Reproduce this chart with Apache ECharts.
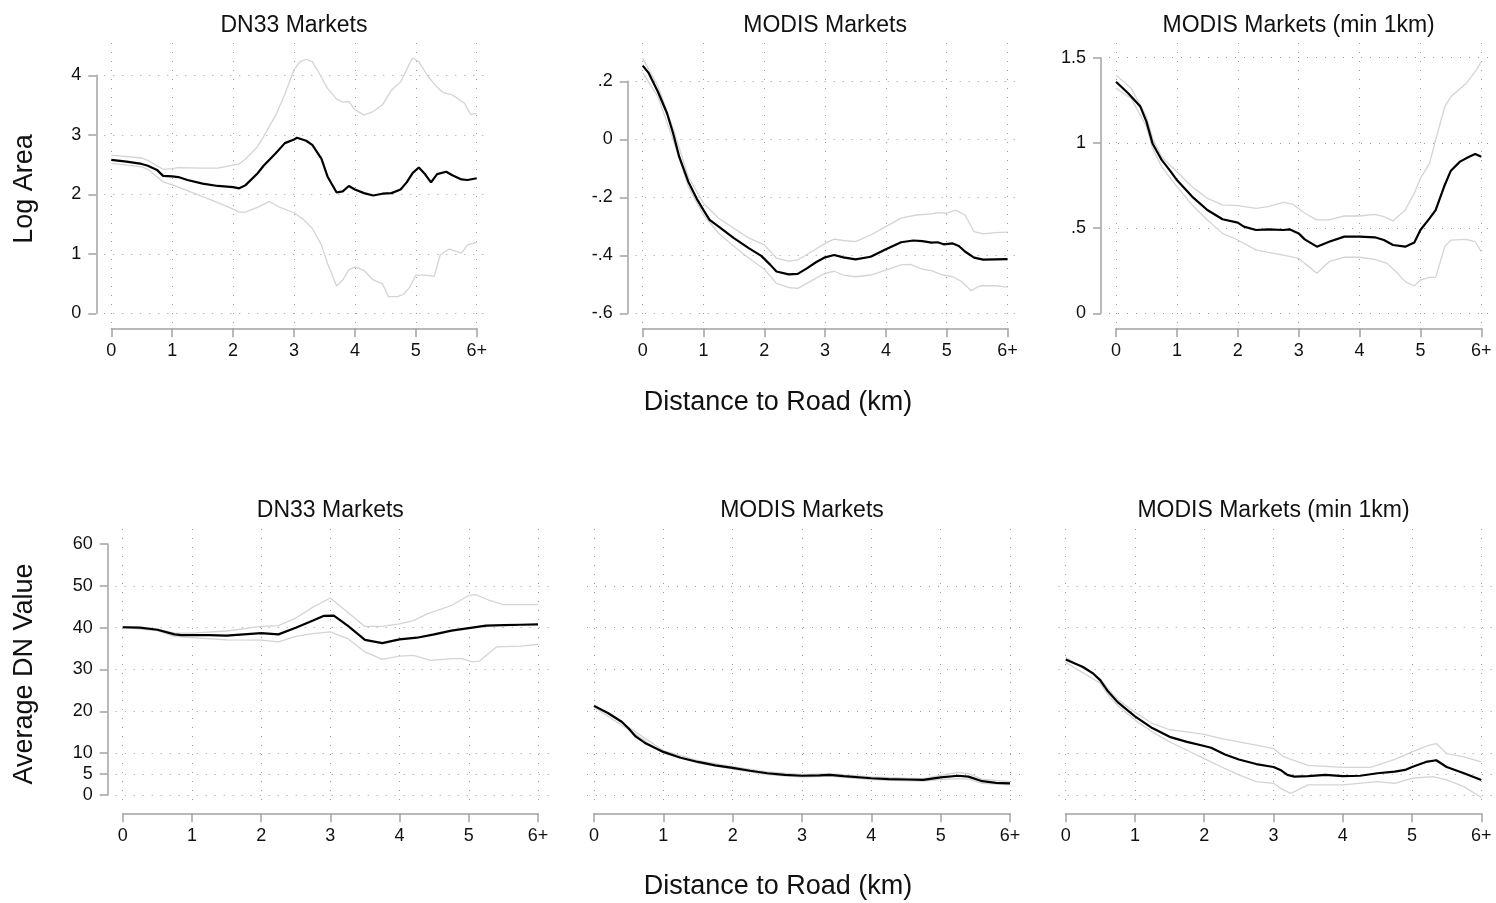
<!DOCTYPE html>
<html>
<head>
<meta charset="utf-8">
<title>Log Area and Average DN Value by Distance to Road</title>
<script src="https://cdn.jsdelivr.net/npm/echarts@6/dist/echarts.min.js"></script>
<style>
  html, body { margin: 0; padding: 0; background: #ffffff; }
  #chart { width: 1496px; height: 903px; }
</style>
</head>
<body>
<div id="chart"></div>
<script>
// ---- data: [distance km, value] ----
const xTicks = [0, 1, 2, 3, 4, 5, 6]

// Log Area, DN33 markets
const areaDn33Est = [[0,2.58],[0.25,2.55],[0.5,2.51],[0.6,2.48],[0.75,2.41],[0.85,2.31],[1,2.30],[1.1,2.29],[1.25,2.24],[1.5,2.18],[1.75,2.14],[2,2.12],[2.1,2.10],[2.2,2.15],[2.4,2.35],[2.5,2.48],[2.7,2.69],[2.85,2.86],[3,2.92],[3.05,2.95],[3.2,2.90],[3.3,2.83],[3.45,2.60],[3.55,2.30],[3.7,2.03],[3.8,2.05],[3.9,2.14],[4,2.08],[4.15,2.02],[4.3,1.98],[4.45,2.01],[4.6,2.02],[4.75,2.08],[4.85,2.20],[4.95,2.36],[5.05,2.45],[5.15,2.34],[5.25,2.20],[5.35,2.34],[5.5,2.38],[5.6,2.32],[5.75,2.25],[5.85,2.24],[6,2.27]]
const areaDn33Hi = [[0,2.66],[0.5,2.61],[0.6,2.57],[0.85,2.42],[1,2.43],[1.1,2.45],[1.5,2.44],[1.75,2.44],[2,2.49],[2.1,2.51],[2.2,2.59],[2.4,2.80],[2.5,2.97],[2.7,3.33],[2.85,3.68],[3,4.09],[3.1,4.23],[3.2,4.27],[3.3,4.23],[3.4,4.06],[3.55,3.78],[3.7,3.60],[3.8,3.55],[3.9,3.56],[4,3.42],[4.15,3.33],[4.3,3.39],[4.45,3.50],[4.6,3.75],[4.75,3.89],[4.9,4.20],[4.95,4.29],[5.05,4.23],[5.2,3.98],[5.35,3.80],[5.45,3.71],[5.6,3.67],[5.8,3.53],[5.9,3.34],[6,3.36]]
const areaDn33Lo = [[0,2.52],[0.5,2.46],[0.6,2.42],[0.85,2.21],[1,2.16],[1.1,2.12],[1.5,1.96],[1.75,1.86],[2,1.75],[2.1,1.70],[2.2,1.70],[2.4,1.78],[2.6,1.88],[2.75,1.79],[3,1.69],[3.15,1.58],[3.3,1.43],[3.45,1.15],[3.55,0.84],[3.7,0.46],[3.8,0.56],[3.9,0.73],[4,0.78],[4.15,0.72],[4.3,0.56],[4.45,0.50],[4.55,0.28],[4.7,0.28],[4.8,0.32],[4.9,0.44],[5,0.64],[5.15,0.64],[5.3,0.62],[5.4,0.98],[5.55,1.08],[5.75,1.01],[5.85,1.15],[6,1.19]]

// Log Area, MODIS markets
const areaModisEst = [[0,0.254],[0.1,0.228],[0.25,0.164],[0.4,0.090],[0.5,0.021],[0.6,-0.060],[0.75,-0.146],[0.9,-0.209],[1,-0.244],[1.1,-0.278],[1.25,-0.301],[1.5,-0.341],[1.75,-0.376],[1.95,-0.402],[2.1,-0.433],[2.2,-0.456],[2.4,-0.466],[2.55,-0.464],[2.7,-0.445],[2.85,-0.424],[3,-0.407],[3.15,-0.399],[3.3,-0.407],[3.5,-0.414],[3.75,-0.405],[4,-0.379],[4.25,-0.355],[4.45,-0.349],[4.6,-0.351],[4.75,-0.356],[4.85,-0.355],[4.95,-0.362],[5.1,-0.359],[5.2,-0.368],[5.3,-0.387],[5.45,-0.408],[5.6,-0.415],[5.8,-0.414],[6,-0.413]]
const areaModisHi = [[0,0.279],[0.25,0.184],[0.5,0.038],[0.75,-0.129],[1,-0.221],[1.25,-0.272],[1.5,-0.307],[1.75,-0.341],[2,-0.364],[2.2,-0.410],[2.4,-0.420],[2.55,-0.416],[2.75,-0.391],[3,-0.359],[3.15,-0.344],[3.3,-0.349],[3.5,-0.353],[3.75,-0.330],[4,-0.301],[4.25,-0.272],[4.5,-0.261],[4.75,-0.257],[4.85,-0.253],[5,-0.255],[5.15,-0.244],[5.3,-0.261],[5.45,-0.318],[5.6,-0.326],[5.8,-0.322],[6,-0.320]]
const areaModisLo = [[0,0.230],[0.25,0.147],[0.5,-0.002],[0.75,-0.163],[1,-0.261],[1.25,-0.324],[1.5,-0.370],[1.75,-0.410],[2,-0.448],[2.2,-0.497],[2.4,-0.511],[2.55,-0.514],[2.75,-0.491],[3,-0.462],[3.15,-0.455],[3.3,-0.468],[3.5,-0.474],[3.75,-0.468],[4,-0.451],[4.25,-0.433],[4.4,-0.431],[4.6,-0.448],[4.75,-0.453],[4.9,-0.466],[5.1,-0.474],[5.25,-0.491],[5.4,-0.522],[5.55,-0.505],[5.8,-0.505],[6,-0.510]]

// Log Area, MODIS markets (min 1km)
const areaModis1Est = [[0,1.359],[0.2,1.291],[0.4,1.213],[0.5,1.125],[0.6,0.997],[0.75,0.900],[0.9,0.831],[1,0.782],[1.25,0.685],[1.5,0.606],[1.75,0.552],[2,0.532],[2.1,0.509],[2.3,0.489],[2.5,0.493],[2.75,0.489],[2.85,0.493],[3,0.469],[3.1,0.434],[3.3,0.391],[3.5,0.420],[3.75,0.450],[4,0.450],[4.25,0.446],[4.4,0.430],[4.55,0.401],[4.75,0.391],[4.9,0.415],[5,0.489],[5.15,0.557],[5.25,0.606],[5.4,0.753],[5.5,0.837],[5.65,0.890],[5.8,0.919],[5.9,0.935],[6,0.919]]
const areaModis1Hi = [[0,1.398],[0.25,1.320],[0.5,1.154],[0.6,1.027],[0.75,0.919],[1,0.831],[1.25,0.743],[1.5,0.675],[1.75,0.636],[2,0.632],[2.3,0.616],[2.5,0.626],[2.75,0.651],[2.9,0.641],[3.1,0.587],[3.3,0.548],[3.5,0.548],[3.75,0.571],[4,0.571],[4.25,0.581],[4.4,0.567],[4.55,0.542],[4.75,0.606],[4.9,0.704],[5,0.792],[5.15,0.880],[5.25,1.017],[5.4,1.213],[5.5,1.271],[5.75,1.349],[5.9,1.418],[6,1.477]]
const areaModis1Lo = [[0,1.320],[0.25,1.261],[0.5,1.095],[0.6,0.968],[0.75,0.861],[1,0.743],[1.25,0.636],[1.5,0.548],[1.75,0.469],[2,0.430],[2.3,0.372],[2.5,0.358],[2.75,0.342],[3,0.323],[3.1,0.293],[3.3,0.235],[3.5,0.303],[3.75,0.329],[4,0.329],[4.25,0.317],[4.45,0.293],[4.6,0.244],[4.75,0.186],[4.9,0.160],[5,0.196],[5.15,0.211],[5.25,0.211],[5.4,0.391],[5.5,0.430],[5.75,0.434],[5.9,0.420],[6,0.362]]

// Average DN value, DN33 markets
const dnDn33Est = [[0,40.1],[0.25,40.0],[0.5,39.5],[0.75,38.4],[0.85,38.2],[1,38.2],[1.25,38.2],[1.5,38.1],[1.75,38.4],[2,38.7],[2.25,38.4],[2.5,40.0],[2.75,41.7],[2.9,42.8],[3.05,42.9],[3.25,40.5],[3.5,37.1],[3.75,36.3],[4,37.2],[4.25,37.6],[4.5,38.4],[4.75,39.3],[5,39.9],[5.25,40.5],[5.5,40.6],[5.75,40.7],[6,40.8]]
const dnDn33Hi = [[0,40.3],[0.5,39.7],[0.75,38.7],[1,38.7],[1.5,39.2],[2,40.3],[2.25,40.5],[2.5,42.3],[2.75,44.9],[3,47.1],[3.25,43.7],[3.5,40.3],[3.75,40.3],[4,40.9],[4.2,41.7],[4.4,43.3],[4.75,45.3],[5,47.7],[5.1,47.9],[5.3,46.5],[5.5,45.5],[6,45.5]]
const dnDn33Lo = [[0,40.0],[0.5,39.3],[0.75,37.9],[1,37.6],[1.5,37.1],[2,37.0],[2.25,36.6],[2.5,37.9],[2.75,38.6],[3,39.0],[3.25,37.4],[3.5,34.2],[3.75,32.4],[4,33.2],[4.2,33.4],[4.45,32.2],[4.75,32.6],[4.9,32.6],[5.05,31.8],[5.15,32.0],[5.4,35.4],[5.75,35.6],[6,36.0]]

// Average DN value, MODIS markets
const dnModisEst = [[0,21.3],[0.2,19.6],[0.4,17.5],[0.5,15.9],[0.6,14.0],[0.75,12.3],[1,10.3],[1.25,8.9],[1.5,7.9],[1.75,7.1],[2,6.5],[2.25,5.8],[2.5,5.2],[2.75,4.8],[3,4.6],[3.25,4.7],[3.4,4.8],[3.6,4.5],[4,4.0],[4.25,3.8],[4.5,3.7],[4.75,3.6],[5,4.2],[5.25,4.6],[5.4,4.4],[5.6,3.3],[5.8,2.9],[6,2.8]]
const dnModisHi = [[0,21.6],[0.5,16.2],[1,10.6],[1.5,8.2],[2,6.8],[2.5,5.5],[3,4.9],[3.4,5.1],[4,4.3],[4.5,4.0],[4.75,3.9],[5,4.7],[5.25,5.4],[5.4,5.1],[5.6,3.8],[6,3.2]]
const dnModisLo = [[0,21.0],[0.5,15.6],[1,10.0],[1.5,7.6],[2,6.2],[2.5,4.9],[3,4.3],[3.4,4.5],[4,3.7],[4.5,3.4],[4.75,3.3],[5,3.7],[5.25,3.9],[5.4,3.8],[5.6,2.8],[6,2.4]]

// Average DN value, MODIS markets (min 1km)
const dnModis1Est = [[0,32.4],[0.25,30.6],[0.4,29.0],[0.5,27.4],[0.6,25.0],[0.75,22.2],[1,18.8],[1.25,16.0],[1.5,13.9],[1.75,12.7],[2,11.7],[2.1,11.3],[2.3,9.7],[2.5,8.5],[2.75,7.4],[3,6.7],[3.1,6.0],[3.2,4.8],[3.3,4.4],[3.5,4.5],[3.75,4.8],[4,4.5],[4.25,4.6],[4.5,5.2],[4.75,5.6],[4.9,6.0],[5,6.7],[5.2,7.9],[5.35,8.3],[5.5,6.7],[5.75,5.2],[6,3.6]]
const dnModis1Hi = [[0,32.9],[0.5,27.8],[0.6,25.6],[0.75,22.8],[1,19.8],[1.25,17.1],[1.5,15.6],[1.75,15.1],[2,14.5],[2.25,13.5],[2.5,12.7],[2.75,11.9],[3,11.1],[3.15,9.1],[3.5,7.1],[4,6.6],[4.4,6.6],[4.75,8.5],[5,10.3],[5.25,11.9],[5.35,12.3],[5.5,9.9],[5.75,9.1],[6,7.9]]
const dnModis1Lo = [[0,31.7],[0.5,26.7],[0.6,24.2],[0.75,21.4],[1,17.9],[1.25,15.1],[1.5,12.7],[1.75,10.7],[2,8.7],[2.25,6.7],[2.5,4.8],[2.75,3.2],[3,2.8],[3.1,1.6],[3.25,0.4],[3.5,2.4],[4,2.4],[4.5,3.2],[4.75,2.8],[5,4.0],[5.3,4.4],[5.5,3.6],[5.75,2.0],[6,-0.6]]

const dnYTicks = [0, 5, 10, 20, 30, 40, 50, 60]

// ---- layout ----
const FONT = "'Liberation Sans', Arial, Helvetica, sans-serif"
const AXIS_GREY = '#a3a3a3'
const DOT_GREY = '#9c9c9c'
const CI_GREY = '#d4d4d4'

const panels = [
  { title: 'DN33 Markets', est: areaDn33Est, hi: areaDn33Hi, lo: areaDn33Lo,
    yMin: 0, yMax: 4, yStep: 1, yAxisShown: true,
    x0: 111.3, x6: 476.7, yHiPx: 75.3, yLoPx: 313.3, xOff: 15, regTop: 43, regBot: 323, titleY: 26 },
  { title: 'MODIS Markets', est: areaModisEst, hi: areaModisHi, lo: areaModisLo,
    yMin: -0.6, yMax: 0.2, yStep: 0.2, yAxisShown: true,
    x0: 642.7, x6: 1007.5, yHiPx: 81.3, yLoPx: 313.3, xOff: 15, regTop: 43, regBot: 323, titleY: 26 },
  { title: 'MODIS Markets (min 1km)', est: areaModis1Est, hi: areaModis1Hi, lo: areaModis1Lo,
    yMin: 0, yMax: 1.5, yStep: 0.5, yAxisShown: true,
    x0: 1116, x6: 1481.3, yHiPx: 57.7, yLoPx: 313.3, xOff: 15, regTop: 43, regBot: 323, titleY: 26 },
  { title: 'DN33 Markets', est: dnDn33Est, hi: dnDn33Hi, lo: dnDn33Lo,
    yMin: 0, yMax: 60, yTicks: dnYTicks, yAxisShown: true,
    x0: 122.7, x6: 538, yHiPx: 544, yLoPx: 795, xOff: 18.3, regTop: 529, regBot: 803, titleY: 511 },
  { title: 'MODIS Markets', est: dnModisEst, hi: dnModisHi, lo: dnModisLo,
    yMin: 0, yMax: 60, yTicks: dnYTicks, yAxisShown: false,
    x0: 594, x6: 1010, yHiPx: 544, yLoPx: 795, xOff: 18.3, regTop: 529, regBot: 803, titleY: 511 },
  { title: 'MODIS Markets (min 1km)', est: dnModis1Est, hi: dnModis1Hi, lo: dnModis1Lo,
    yMin: 0, yMax: 60, yTicks: dnYTicks, yAxisShown: false,
    x0: 1065.7, x6: 1481.3, yHiPx: 544, yLoPx: 795, xOff: 18.3, regTop: 529, regBot: 803, titleY: 511 }
]

const fmtY = v => String(+v.toFixed(3)).replace(/^(-?)0\./, '$1.')
const fmtX = v => (v === 6 ? '6+' : String(v))

const dotted = { show: true, lineStyle: { color: DOT_GREY, width: 1, type: [1, 8] } }
const noAxisParts = { axisLine: { show: false, onZero: false }, axisTick: { show: false }, axisLabel: { show: false } }

const grid = [], xAxis = [], yAxis = [], series = [], graphic = []

function addGrid(box, xCfg, yCfg) {
  const idx = grid.length
  grid.push(Object.assign({ containLabel: false }, box))
  xAxis.push(Object.assign({ gridIndex: idx, type: 'value' }, xCfg))
  yAxis.push(Object.assign({ gridIndex: idx, type: 'value' }, yCfg))
  return idx
}

panels.forEach(p => {
  const w = p.x6 - p.x0
  const h = p.yLoPx - p.yHiPx
  const pxPerUnit = h / (p.yMax - p.yMin)

  // vertical dotted gridlines over the full plot region
  addGrid({ left: p.x0, top: p.regTop, width: w, height: p.regBot - p.regTop },
    Object.assign({ min: 0, max: 6, interval: 1, splitLine: dotted }, noAxisParts),
    Object.assign({ min: 0, max: 1, splitLine: { show: false } }, noAxisParts))

  // horizontal dotted gridlines, slightly wider than the x range
  const gl = p.x0 - 7, gr = p.x6 + 12
  if (p.yTicks) {
    const top50 = p.yLoPx - 50 * pxPerUnit
    addGrid({ left: gl, top: top50, width: gr - gl, height: p.yLoPx - top50 },
      Object.assign({ min: 0, max: 1, splitLine: { show: false } }, noAxisParts),
      Object.assign({ min: 0, max: 50, interval: 10, splitLine: dotted }, noAxisParts))
    const top5 = p.yLoPx - 5 * pxPerUnit
    addGrid({ left: gl, top: top5, width: gr - gl, height: p.yLoPx - top5 },
      Object.assign({ min: 0, max: 1, splitLine: { show: false } }, noAxisParts),
      Object.assign({ min: 0, max: 5, interval: 5, splitLine: Object.assign({ showMinLine: false }, dotted) }, noAxisParts))
  } else {
    addGrid({ left: gl, top: p.yHiPx, width: gr - gl, height: h },
      Object.assign({ min: 0, max: 1, splitLine: { show: false } }, noAxisParts),
      Object.assign({ min: p.yMin, max: p.yMax, interval: p.yStep, splitLine: dotted }, noAxisParts))
  }

  // data grid carrying the visible axes
  const yCfg = {
    min: p.yMin, max: p.yMax,
    position: 'left',
    splitLine: { show: false },
    show: p.yAxisShown,
    offset: 15,
    axisLine: { show: true, onZero: false, lineStyle: { color: AXIS_GREY, width: 1.5 } },
    axisTick: { show: true, length: 8, lineStyle: { color: AXIS_GREY, width: 1.5 } },
    axisLabel: { show: true, margin: 15, color: '#111', fontSize: 18, fontFamily: FONT, formatter: fmtY }
  }
  if (p.yTicks) {
    yCfg.axisTick.customValues = p.yTicks
    yCfg.axisLabel.customValues = p.yTicks
  } else {
    yCfg.interval = p.yStep
  }
  const di = addGrid({ left: p.x0, top: p.yHiPx, width: w, height: h },
    {
      min: 0, max: 6, interval: 1,
      position: 'bottom',
      offset: p.xOff,
      splitLine: { show: false },
      axisLine: { show: true, onZero: false, lineStyle: { color: AXIS_GREY, width: 1.5 } },
      axisTick: { show: true, length: 9, lineStyle: { color: AXIS_GREY, width: 1.5 } },
      axisLabel: { show: true, margin: 14, color: '#111', fontSize: 18, fontFamily: FONT, formatter: fmtX }
    },
    yCfg)

  const lineSeries = (data, color, width, z) => ({
    type: 'line', xAxisIndex: di, yAxisIndex: di, data,
    showSymbol: false, symbol: 'none', clip: false, z,
    lineStyle: { color, width }, silent: true, animation: false
  })
  series.push(lineSeries(p.hi, CI_GREY, 1.3, 2))
  series.push(lineSeries(p.lo, CI_GREY, 1.3, 2))
  series.push(lineSeries(p.est, '#000000', 2.2, 3))

  graphic.push({
    type: 'text', x: (p.x0 + p.x6) / 2, y: p.titleY,
    style: { text: p.title, fill: '#111', font: '23px ' + FONT, align: 'center', verticalAlign: 'middle', textAlign: 'center', textVerticalAlign: 'middle' }
  })
})

// shared axis titles
const axisTitle = (text, x, y, rotation) => ({
  type: 'text', x, y, rotation: rotation || 0,
  style: { text, fill: '#111', font: '27px ' + FONT, align: 'center', verticalAlign: 'middle', textAlign: 'center', textVerticalAlign: 'middle' }
})
graphic.push(axisTitle('Distance to Road (km)', 778, 403))
graphic.push(axisTitle('Distance to Road (km)', 778, 887))
graphic.push(axisTitle('Log Area', 25, 189, Math.PI / 2))
graphic.push(axisTitle('Average DN Value', 25, 674, Math.PI / 2))

const chart = echarts.init(document.getElementById('chart'), null, { renderer: 'canvas' })
chart.setOption({
  backgroundColor: '#ffffff',
  animation: false,
  grid, xAxis, yAxis, series, graphic
})
</script>
</body>
</html>
